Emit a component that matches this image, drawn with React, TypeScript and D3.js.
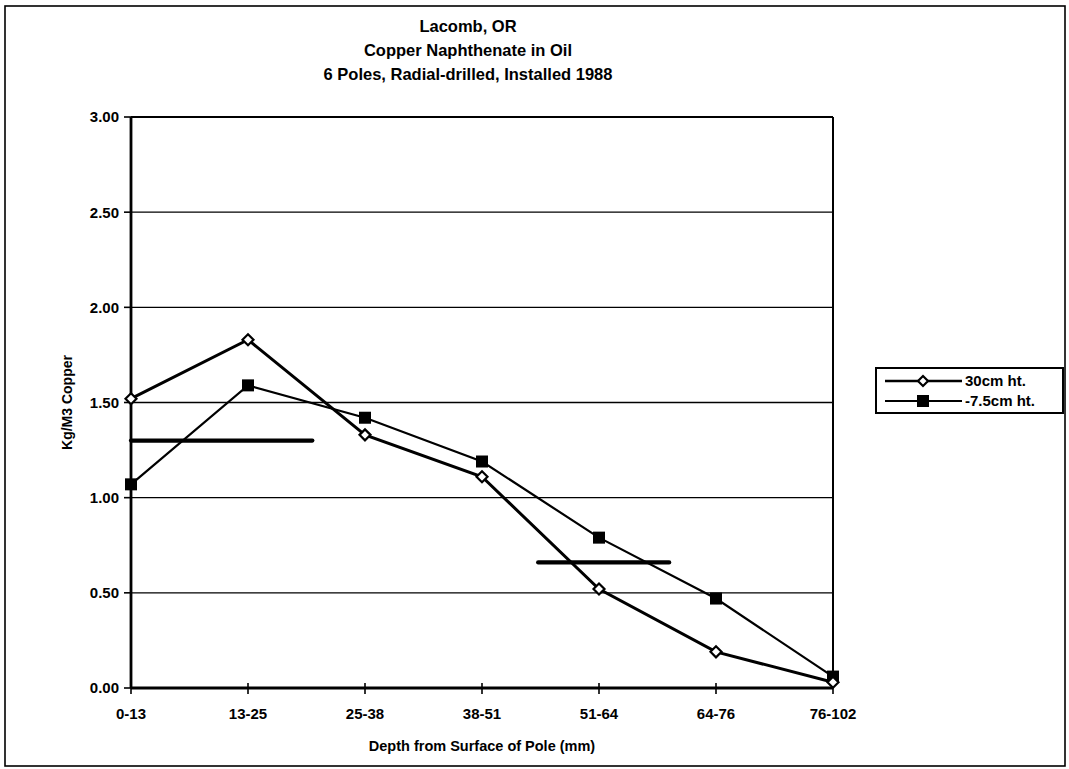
import React from "react";
import * as d3 from "d3";

const categories = ["0-13", "13-25", "25-38", "38-51", "51-64", "64-76", "76-102"];
const series30 = [1.52, 1.83, 1.33, 1.11, 0.52, 0.19, 0.03];
const seriesNeg75 = [1.07, 1.59, 1.42, 1.19, 0.79, 0.47, 0.06];
const yTicks = [0, 0.5, 1.0, 1.5, 2.0, 2.5, 3.0];
const titleLines = ["Lacomb, OR", "Copper Naphthenate in Oil", "6 Poles, Radial-drilled, Installed 1988"];
const legendLabels = ["30cm ht.", "-7.5cm ht."];
// reference (threshold) segments: value, and span in category-index units
const thresholdValues = [1.3, 0.66];
const thresholdFrom = [0, 3.48];
const thresholdTo = [1.55, 4.6];

const W = 1069;
const H = 769;
const left = 131;
const right = 833;
const top = 117;
const bottom = 688;
const font = "'Liberation Sans', Arial, sans-serif";

export default function App() {
  const x = d3.scaleLinear().domain([0, categories.length - 1]).range([left, right]);
  const y = d3.scaleLinear().domain([0, 3]).range([bottom, top]);
  const line = d3
    .line<number>()
    .x((_, i) => x(i))
    .y((d) => y(d));

  const diamond = (cx: number, cy: number, r: number) =>
    `M${cx},${cy - r}L${cx + r},${cy}L${cx},${cy + r}L${cx - r},${cy}Z`;

  return (
    <svg width={W} height={H} style={{ position: "absolute", left: 0, top: 0, background: "#fff" }}>
      <rect x={0} y={0} width={W} height={H} fill="#fff" />
      {/* outer border */}
      <rect x={5} y={6} width={1060} height={760} fill="none" stroke="#000" strokeWidth={1.6} />

      {/* title */}
      {titleLines.map((t, i) => (
        <text
          key={t}
          x={468}
          y={32 + i * 24}
          textAnchor="middle"
          fontFamily={font}
          fontWeight="bold"
          fontSize={16.5}
          fill="#000"
        >
          {t}
        </text>
      ))}

      {/* gridlines */}
      {yTicks.map((t) => (
        <line key={"g" + t} x1={left} x2={right} y1={y(t)} y2={y(t)} stroke="#000" strokeWidth={1.3} />
      ))}
      {/* plot border */}
      <line x1={right} x2={right} y1={top} y2={bottom} stroke="#000" strokeWidth={2} />
      <line x1={left} x2={right} y1={top} y2={top} stroke="#000" strokeWidth={2} />

      {/* axes */}
      <line x1={left} x2={left} y1={top} y2={bottom} stroke="#000" strokeWidth={2.8} />
      <line x1={left} x2={right} y1={bottom} y2={bottom} stroke="#000" strokeWidth={2.8} />

      {/* y ticks */}
      {yTicks.map((t) => (
        <g key={"yt" + t}>
          <line x1={left - 7} x2={left} y1={y(t)} y2={y(t)} stroke="#000" strokeWidth={1.6} />
          <text
            x={left - 12}
            y={y(t)}
            dy="0.36em"
            textAnchor="end"
            fontFamily={font}
            fontWeight="bold"
            fontSize={15}
            fill="#000"
          >
            {t.toFixed(2)}
          </text>
        </g>
      ))}

      {/* x ticks */}
      {categories.map((c, i) => (
        <g key={c}>
          <line x1={x(i)} x2={x(i)} y1={bottom - 5} y2={bottom + 6} stroke="#000" strokeWidth={1.6} />
          <text
            x={x(i)}
            y={719}
            textAnchor="middle"
            fontFamily={font}
            fontWeight="bold"
            fontSize={15}
            fill="#000"
          >
            {c}
          </text>
        </g>
      ))}

      {/* axis titles */}
      <text
        x={482}
        y={751}
        textAnchor="middle"
        fontFamily={font}
        fontWeight="bold"
        fontSize={14.5}
        fill="#000"
      >
        Depth from Surface of Pole (mm)
      </text>
      <text
        transform={`translate(72,${(top + bottom) / 2}) rotate(-90)`}
        textAnchor="middle"
        fontFamily={font}
        fontWeight="bold"
        fontSize={14}
        fill="#000"
      >
        Kg/M3 Copper
      </text>

      {/* thresholds */}
      {thresholdValues.map((v, i) => (
        <line
          key={"th" + i}
          x1={x(thresholdFrom[i])}
          x2={x(thresholdTo[i])}
          y1={y(v)}
          y2={y(v)}
          stroke="#000"
          strokeWidth={4.2}
          strokeLinecap="round"
        />
      ))}

      {/* series lines */}
      <path d={line(seriesNeg75) || ""} fill="none" stroke="#000" strokeWidth={2.2} />
      <path d={line(series30) || ""} fill="none" stroke="#000" strokeWidth={3} />

      {/* markers */}
      {seriesNeg75.map((v, i) => (
        <rect key={"s" + i} x={x(i) - 6} y={y(v) - 6} width={12} height={12} fill="#000" />
      ))}
      {series30.map((v, i) => (
        <path key={"d" + i} d={diamond(x(i), y(v), 5.5)} fill="#fff" stroke="#000" strokeWidth={2.2} />
      ))}

      {/* legend */}
      <rect x={876} y={368} width={187} height={45} fill="#fff" stroke="#000" strokeWidth={2} />
      <line x1={885} x2={962} y1={381} y2={381} stroke="#000" strokeWidth={2.6} />
      <path d={diamond(923, 381, 5)} fill="#fff" stroke="#000" strokeWidth={2.2} />
      <text x={965} y={381} dy="0.36em" fontFamily={font} fontWeight="bold" fontSize={15} fill="#000">
        {legendLabels[0]}
      </text>
      <line x1={885} x2={962} y1={401} y2={401} stroke="#000" strokeWidth={2.2} />
      <rect x={917} y={395} width={12} height={12} fill="#000" />
      <text x={965} y={401} dy="0.36em" fontFamily={font} fontWeight="bold" fontSize={15} fill="#000">
        {legendLabels[1]}
      </text>
    </svg>
  );
}
